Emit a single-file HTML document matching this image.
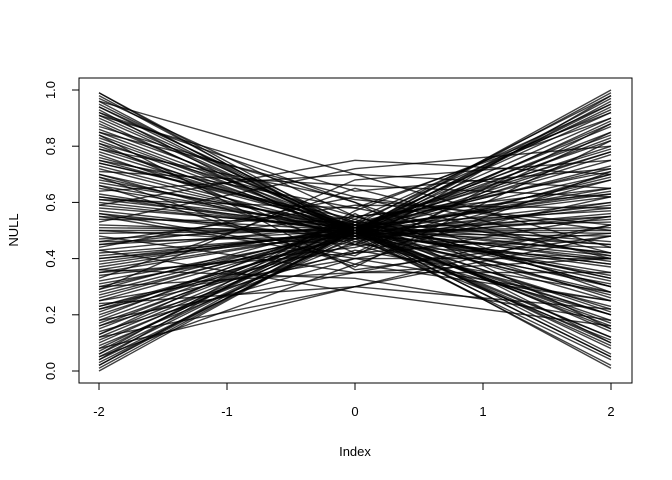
<!DOCTYPE html>
<html><head><meta charset="utf-8">
<style>
html,body{margin:0;padding:0;background:#fff;}
svg{display:block;font-family:"Liberation Sans",Arial,sans-serif;}
</style></head>
<body>
<svg id="chart" width="672" height="480" viewBox="0 0 672 480">
  <g id="lines"></g>
  <rect x="79" y="78" width="553" height="305" fill="none" stroke="#000" stroke-width="1"/>
  <g id="xaxis"></g>
  <g id="yaxis"></g>
  <text x="355" y="456" font-size="13" text-anchor="middle">Index</text>
  <text x="18" y="230" font-size="13" text-anchor="middle" transform="rotate(-90 18 230)">NULL</text>
</svg>
<script>
const xPositions = [-2, 0, 2];
const xTicks = [-2, -1, 0, 1, 2];
const yTicks = [0, 0.2, 0.4, 0.6, 0.8, 1.0];
const yTickLabels = ["0.0","0.2","0.4","0.6","0.8","1.0"];
const leftVals = [0.98,0.95,0.92,0.9,0.88,0.85,0.83,0.8,0.78,0.75,0.72,0.7,0.68,0.65,0.62,0.6,0.58,0.55,0.52,0.5,0.47,0.45,0.42,0.4,0.38,0.35,0.32,0.3,0.28,0.25,0.22,0.2,0.18,0.15,0.12,0.1,0.08,0.05,0.03,0.01,
 0.97,0.93,0.87,0.81,0.76,0.71,0.66,0.61,0.57,0.53,0.48,0.44,0.39,0.34,0.29,0.24,0.19,0.14,0.09,0.04,0.99,0.91,0.84,0.74,0.64,0.56,0.46,0.36,0.26,0.16,0.06,0.94,0.79,0.69,0.59,0.43,0.33,0.23,0.13,0.02,
 0.99,0.96,0.94,0.91,0.89,0.86,0.84,0.82,0.79,0.77,0.74,0.73,0.69,0.67,0.63,0.61,0.59,0.56,0.54,0.51,0.49,0.46,0.43,0.41,0.37,0.36,0.31,0.29,0.27,0.23,0.21,0.17,0.16,0.13,0.11,0.07,0.06,0.04,0.02,0.0,
 0.92,0.81,0.7,0.62,0.55,0.4,0.3,0.22,0.12,0.05,0.85,0.75,0.66,0.5,0.45,0.35,0.25,0.18,0.08,0.96];
const midVals = [0.49,0.5,0.51,0.5,0.49,0.51,0.5,0.49,0.5,0.51,0.49,0.5,0.51,0.5,0.49,0.5,0.51,0.5,0.49,0.5,0.51,0.5,0.49,0.5,0.51,0.5,0.49,0.5,0.51,0.5,0.49,0.5,0.51,0.5,0.49,0.5,0.51,0.5,0.49,0.5,
 0.55,0.45,0.6,0.42,0.52,0.66,0.38,0.58,0.47,0.72,0.35,0.62,0.5,0.44,0.68,0.3,0.54,0.4,0.46,0.56,0.48,0.64,0.36,0.53,0.7,0.41,0.59,0.33,0.51,0.43,0.57,0.49,0.61,0.37,0.75,0.28,0.65,0.45,0.55,0.5,
 0.5,0.48,0.52,0.5,0.47,0.53,0.5,0.49,0.51,0.46,0.54,0.5,0.48,0.52,0.49,0.51,0.5,0.47,0.53,0.5,0.5,0.48,0.52,0.49,0.51,0.5,0.47,0.53,0.5,0.48,0.52,0.49,0.51,0.5,0.47,0.53,0.5,0.48,0.52,0.5,
 0.6,0.55,0.45,0.52,0.4,0.48,0.35,0.42,0.3,0.38,0.62,0.58,0.5,0.45,0.55,0.42,0.4,0.35,0.3,0.7];
const rightVals = [0.02,0.05,0.08,0.1,0.12,0.15,0.17,0.2,0.22,0.25,0.28,0.3,0.32,0.35,0.38,0.4,0.42,0.45,0.48,0.5,0.53,0.55,0.58,0.6,0.62,0.65,0.68,0.7,0.72,0.75,0.78,0.8,0.82,0.85,0.88,0.9,0.92,0.95,0.97,0.99,
 0.3,0.7,0.15,0.85,0.45,0.62,0.25,0.9,0.55,0.8,0.35,0.5,0.05,0.68,0.75,0.22,0.95,0.4,0.6,0.1,0.2,0.72,0.48,0.33,0.65,0.88,0.58,0.18,0.78,0.28,0.92,0.38,0.52,0.82,0.7,0.16,0.42,0.98,0.63,0.12,
 0.01,0.04,0.06,0.09,0.11,0.14,0.16,0.18,0.21,0.23,0.26,0.27,0.31,0.33,0.37,0.39,0.41,0.44,0.46,0.49,0.51,0.54,0.57,0.59,0.63,0.64,0.69,0.71,0.73,0.77,0.79,0.83,0.84,0.87,0.89,0.93,0.94,0.96,0.98,1.0,
 0.28,0.3,0.2,0.42,0.25,0.56,0.4,0.62,0.48,0.71,0.4,0.41,0.34,0.4,0.65,0.49,0.55,0.52,0.52,0.44];

const NS = "http://www.w3.org/2000/svg";
function xs(v){ return 99 + (v + 2) * (611 - 99) / 4; }
function ys(v){ return 371 - v * 281; }

const lg = document.getElementById('lines');
for (let i = 0; i < leftVals.length; i++) {
  const vals = [leftVals[i], midVals[i], rightVals[i]];
  const pts = vals.map((v, j) => xs(xPositions[j]).toFixed(1) + "," + ys(v).toFixed(1)).join(" ");
  const pl = document.createElementNS(NS, "polyline");
  pl.setAttribute("points", pts);
  pl.setAttribute("fill", "none");
  pl.setAttribute("stroke", "#000");
  pl.setAttribute("stroke-opacity", "0.75");
  pl.setAttribute("stroke-width", "1.4");
  
  
  lg.appendChild(pl);
}

const xa = document.getElementById('xaxis');
const xl = document.createElementNS(NS, "line");
xl.setAttribute("x1", xs(xTicks[0])); xl.setAttribute("x2", xs(xTicks[xTicks.length-1]));
xl.setAttribute("y1", 383); xl.setAttribute("y2", 383); xl.setAttribute("stroke", "#000");


xa.appendChild(xl);
xTicks.forEach(t => {
  const l = document.createElementNS(NS, "line");
  l.setAttribute("x1", xs(t)); l.setAttribute("x2", xs(t));
  l.setAttribute("y1", 383); l.setAttribute("y2", 390); l.setAttribute("stroke", "#000");
  
  
  xa.appendChild(l);
  const tx = document.createElementNS(NS, "text");
  tx.setAttribute("x", xs(t)); tx.setAttribute("y", 416);
  tx.setAttribute("font-size", "13"); tx.setAttribute("text-anchor", "middle");
  tx.textContent = String(t);
  
  
  xa.appendChild(tx);
});

const ya = document.getElementById('yaxis');
const yl = document.createElementNS(NS, "line");
yl.setAttribute("x1", 79); yl.setAttribute("x2", 79);
yl.setAttribute("y1", ys(yTicks[0])); yl.setAttribute("y2", ys(yTicks[yTicks.length-1])); yl.setAttribute("stroke", "#000");


ya.appendChild(yl);
yTicks.forEach((t, i) => {
  const l = document.createElementNS(NS, "line");
  l.setAttribute("x1", 72); l.setAttribute("x2", 79);
  l.setAttribute("y1", ys(t)); l.setAttribute("y2", ys(t)); l.setAttribute("stroke", "#000");
  
  
  ya.appendChild(l);
  const tx = document.createElementNS(NS, "text");
  const y = ys(t);
  tx.setAttribute("x", 55); tx.setAttribute("y", y);
  tx.setAttribute("font-size", "13"); tx.setAttribute("text-anchor", "middle");
  tx.setAttribute("transform", "rotate(-90 55 " + y + ")");
  tx.textContent = yTickLabels[i];
  
  
  ya.appendChild(tx);
});
</script>
</body></html>
